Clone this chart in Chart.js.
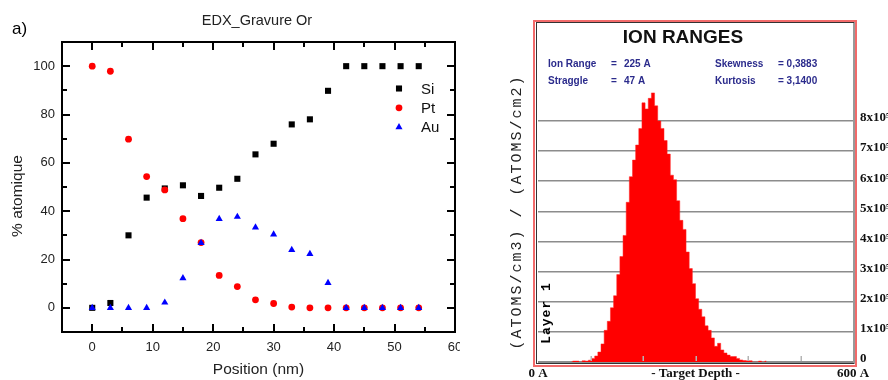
<!DOCTYPE html>
<html><head><meta charset="utf-8">
<script src="https://cdn.jsdelivr.net/npm/chart.js@4.4.1/dist/chart.umd.min.js"></script>
<style>
html,body{margin:0;padding:0;background:#fff;width:888px;height:380px;overflow:hidden}
#c1{position:absolute;left:0;top:0}
#c2{position:absolute;left:460px;top:0}
</style></head><body>
<canvas id="c1" width="460" height="380"></canvas>
<canvas id="c2" width="428" height="380"></canvas>
<script>
// ---------- Left panel: EDX_Gravure Or ----------
const positions = [0,3,6,9,12,15,18,21,24,27,30,33,36,39,42,45,48,51,54];
const si = [0,2,30,45.6,49.4,50.7,46.3,49.7,53.4,63.5,67.9,75.9,78,89.8,100,100,100,100,100];
const pt = [100,97.9,69.8,54.3,48.8,36.9,27,13.4,8.8,3.3,1.8,0.3,0,0,0,0,0,0,0];
const au = [0,0,0,0,2.2,12.3,26.9,36.8,37.7,33.3,30.4,24,22.3,10.3,0,0,0,0,0];
const xTicks = [0,10,20,30,40,50,60];
const xMinorTicks = [5,15,25,35,45,55];
const yTicks = [0,20,40,60,80,100];
const yMinorTicks = [10,30,50,70,90];
const leftTitle = 'EDX_Gravure Or';
const panelLabel = 'a)';
const leftXTitle = 'Position (nm)';
const leftYTitle = '% atomique';

// ---------- Right panel: ION RANGES ----------
const depthBins = [63,69,75,81,87,93,99,105,111,117,123,129,135,141,147,153,159,165,171,177,183,189,195,201,207,213,219,225,231,237,243,249,255,261,267,273,279,285,291,297,303,309,315,321,327,333,339,345,351,357,363,369,375,381,387,393,399,405,411,417,423,429,435];
const ionCounts = [0,0.03,0.03,0,0.04,0.03,0.06,0.12,0.2,0.33,
  0.6,1.05,1.35,1.8,2.2,2.9,3.5,4.2,5.3,6.15,
  6.7,7.2,7.75,8.6,8.4,8.75,8.93,8.5,8.0,7.75,
  7.35,6.9,6.2,6.05,5.35,4.7,4.4,3.65,3.1,2.6,
  2.1,1.75,1.5,1.2,1.05,0.8,0.52,0.62,0.4,0.3,
  0.23,0.18,0.18,0.12,0.07,0.05,0.04,0.04,0,0,
  0.03,0,0.03];
const rightYTicks = [0,1,2,3,4,5,6,7,8];
const rightYLabels = ['0','1x10\u2075','2x10\u2075','3x10\u2075','4x10\u2075','5x10\u2075','6x10\u2075','7x10\u2075','8x10\u2075'];
const rightXTicks = [0,300,600];
const rightXLabels = ['0 A','- Target Depth -','600 A'];
const depthMarks = [100,200,300,400,500];
const rightTitle = 'ION RANGES';
const statsLeft = [['Ion Range','=','225 A'],['Straggle','=','47 A']];
const statsRight = [['Skewness','= 0,3883'],['Kurtosis','= 3,1400']];
const rightYTitle = '(ATOMS/cm3) / (ATOMS/cm2)';
const layerLabel = 'Layer 1';

const SANS = '"Liberation Sans", Arial, sans-serif';
const SERIF = '"Liberation Serif", "Times New Roman", serif';
const MONO = '"Liberation Mono", "Courier New", monospace';

const leftDeco = {
  id: 'leftDeco',
  beforeDatasetsDraw(chart) {
    const {ctx, chartArea: a, scales: {x, y}} = chart;
    ctx.save();
    ctx.strokeStyle = '#000';
    ctx.lineWidth = 2;
    ctx.beginPath();
    const vx = (v, len) => {
      const p = Math.round(x.getPixelForValue(v));
      ctx.moveTo(p, a.bottom); ctx.lineTo(p, a.bottom - len);
      ctx.moveTo(p, a.top); ctx.lineTo(p, a.top + len);
    };
    const hy = (v, len) => {
      const p = Math.round(y.getPixelForValue(v));
      ctx.moveTo(a.left, p); ctx.lineTo(a.left + len, p);
      ctx.moveTo(a.right, p); ctx.lineTo(a.right - len, p);
    };
    xTicks.forEach(v => vx(v, 8));
    xMinorTicks.forEach(v => vx(v, 5));
    yTicks.forEach(v => hy(v, 8));
    yMinorTicks.forEach(v => hy(v, 5));
    ctx.stroke();
    ctx.strokeRect(a.left, a.top, a.right - a.left, a.bottom - a.top);
    ctx.restore();
  },
  afterDraw(chart) {
    const {ctx, chartArea: a} = chart;
    ctx.save();
    ctx.textBaseline = 'middle';
    ctx.fillStyle = '#222';
    ctx.textAlign = 'center';
    ctx.font = '14.5px ' + SANS;
    ctx.fillText(leftTitle, 257, 21);
    ctx.font = '15.5px ' + SANS;
    ctx.fillText(leftXTitle, (a.left + a.right) / 2, 370);
    ctx.save();
    ctx.translate(18, 196);
    ctx.rotate(-Math.PI / 2);
    ctx.fillText(leftYTitle, 0, 0);
    ctx.restore();
    ctx.fillStyle = '#000';
    ctx.textAlign = 'left';
    ctx.font = '17px ' + SANS;
    ctx.fillText(panelLabel, 12, 29.5);
    // legend inside plot
    ctx.font = '15px ' + SANS;
    [0, 1, 2].forEach((di, i) => {
      const ds = chart.data.datasets[di];
      const ly = a.top + 46.5 + i * 19.3;
      const lx = a.right - 56;
      ctx.fillStyle = ds.backgroundColor;
      ctx.strokeStyle = ds.backgroundColor;
      Chart.helpers.drawPoint(ctx, {pointStyle: ds.pointStyle, radius: ds.pointRadius, rotation: 0, borderWidth: 0}, lx, ly);
      ctx.fillStyle = '#111';
      ctx.fillText(ds.label, lx + 22, ly + 1);
    });
    ctx.restore();
  }
};

new Chart(document.getElementById('c1'), {
  type: 'scatter',
  data: {
    datasets: [
      {label: 'Si', data: positions.map((p, i) => ({x: p, y: si[i]})), pointStyle: 'rect', pointRadius: 4.3, backgroundColor: '#000000', borderColor: '#000000', pointBorderWidth: 0, order: 2},
      {label: 'Pt', data: positions.map((p, i) => ({x: p, y: pt[i]})), pointStyle: 'circle', pointRadius: 3.4, backgroundColor: '#ff0000', borderColor: '#ff0000', pointBorderWidth: 0, order: 1},
      {label: 'Au', data: positions.map((p, i) => ({x: p, y: au[i]})), pointStyle: 'triangle', pointRadius: 4.1, backgroundColor: '#0000ff', borderColor: '#0000ff', pointBorderWidth: 0, order: 0}
    ]
  },
  options: {
    responsive: false, animation: false, events: [],
    layout: {padding: {top: 42, right: 5, left: 0, bottom: 0}},
    plugins: {legend: {display: false}, tooltip: {enabled: false}, title: {display: false}},
    scales: {
      x: {
        type: 'linear', min: -5, max: 60,
        grid: {display: false, drawTicks: false}, border: {display: false},
        ticks: {font: {family: SANS, size: 13}, color: '#222', padding: 8, maxRotation: 0, autoSkip: false},
        afterBuildTicks(s) { s.ticks = xTicks.map(v => ({value: v})); },
        afterFit(s) { s.height = 48; s.paddingLeft = 0; s.paddingRight = 0; }
      },
      y: {
        type: 'linear', min: -10, max: 110,
        grid: {display: false, drawTicks: false}, border: {display: false},
        ticks: {font: {family: SANS, size: 13}, color: '#222', padding: 7, autoSkip: false},
        afterBuildTicks(s) { s.ticks = yTicks.map(v => ({value: v})); },
        afterFit(s) { s.width = 62; s.paddingTop = 0; s.paddingBottom = 0; }
      }
    }
  },
  plugins: [leftDeco]
});

// ---------- Right chart ----------
const OX = 460;
const rightDeco = {
  id: 'rightDeco',
  afterDatasetsDraw(chart) {
    const {ctx, chartArea: a, scales: {x}} = chart;
    ctx.save();
    ctx.strokeStyle = '#b4b4b4';
    ctx.lineWidth = 1.5;
    ctx.beginPath();
    depthMarks.forEach(v => {
      const p = Math.round(x.getPixelForValue(v)) + 0.25;
      ctx.moveTo(p, a.bottom - 1); ctx.lineTo(p, a.bottom - 6);
    });
    ctx.stroke();
    ctx.restore();
  },
  afterDraw(chart) {
    const {ctx} = chart;
    ctx.save();
    ctx.strokeStyle = '#f26a6a';
    ctx.lineWidth = 2;
    ctx.strokeRect(534 - OX, 21, 322, 345);
    ctx.strokeStyle = '#333';
    ctx.lineWidth = 1;
    ctx.strokeRect(536.5 - OX, 22.5, 317.5, 341);
    ctx.fillStyle = '#111';
    ctx.textAlign = 'center';
    ctx.textBaseline = 'middle';
    ctx.font = 'bold 19px ' + SANS;
    ctx.fillText(rightTitle, 683 - OX, 38);
    ctx.fillStyle = '#2b2b8c';
    ctx.textAlign = 'left';
    ctx.font = 'bold 10px ' + SANS;
    statsLeft.forEach((r, i) => {
      const yy = 64.5 + i * 16.5;
      ctx.fillText(r[0], 548 - OX, yy);
      ctx.fillText(r[1], 611 - OX, yy);
      ctx.fillText(r[2], 624 - OX, yy);
    });
    statsRight.forEach((r, i) => {
      const yy = 64.5 + i * 16.5;
      ctx.fillText(r[0], 715 - OX, yy);
      ctx.fillText(r[1], 778 - OX, yy);
    });
    ctx.fillStyle = '#222';
    ctx.textAlign = 'center';
    ctx.save();
    ctx.translate(517 - OX, 212);
    ctx.rotate(-Math.PI / 2);
    ctx.font = '15px ' + MONO;
    try { ctx.letterSpacing = '2px'; } catch (e) {}
    ctx.fillText(rightYTitle, 0, 0);
    ctx.restore();
    ctx.save();
    ctx.fillStyle = '#000';
    ctx.translate(547 - OX, 313);
    ctx.rotate(-Math.PI / 2);
    ctx.font = 'bold 13px ' + MONO;
    try { ctx.letterSpacing = '1px'; } catch (e) {}
    ctx.fillText(layerLabel, 0, 0);
    ctx.restore();
    ctx.restore();
  }
};

new Chart(document.getElementById('c2'), {
  type: 'line',
  data: {
    datasets: [{
      data: depthBins.map((d, i) => ({x: d, y: ionCounts[i]})),
      stepped: 'middle', fill: 'origin',
      backgroundColor: '#ff0000', borderColor: '#ff2020', borderWidth: 0.5,
      pointRadius: 0
    }]
  },
  options: {
    responsive: false, animation: false, events: [],
    layout: {padding: {top: 23, left: 78, right: 0, bottom: 0}},
    plugins: {legend: {display: false}, tooltip: {enabled: false}, title: {display: false}, filler: {propagate: false}},
    scales: {
      x: {
        type: 'linear', min: 0, max: 600, offset: false,
        grid: {display: false, drawTicks: false}, border: {display: false},
        ticks: {font: {family: SERIF, size: 13, weight: 'bold'}, color: '#111', padding: 4, maxRotation: 0, autoSkip: false,
          callback: (v) => { const k = rightXTicks.indexOf(v); return k >= 0 ? rightXLabels[k] : ''; }},
        afterBuildTicks(s) { s.ticks = rightXTicks.map(v => ({value: v})); },
        afterFit(s) { s.height = 18; s.paddingLeft = 0; s.paddingRight = 0; }
      },
      y: {
        type: 'linear', position: 'right', min: 0, max: 11.25,
        grid: {display: true, drawTicks: false, color: '#8c8c8c', lineWidth: (c) => (c.tick && c.tick.value === 0) ? 2.5 : 1.5},
        border: {display: false},
        ticks: {font: {family: SERIF, size: 13, weight: 'bold'}, color: '#111', padding: 7, labelOffset: -3, autoSkip: false,
          callback: (v) => { const k = rightYTicks.indexOf(v); return k >= 0 ? rightYLabels[k] : ''; }},
        afterBuildTicks(s) { s.ticks = rightYTicks.map(v => ({value: v})); },
        afterFit(s) { s.width = 35; s.paddingTop = 0; s.paddingBottom = 0; }
      }
    }
  },
  plugins: [rightDeco]
});
</script>
</body></html>
